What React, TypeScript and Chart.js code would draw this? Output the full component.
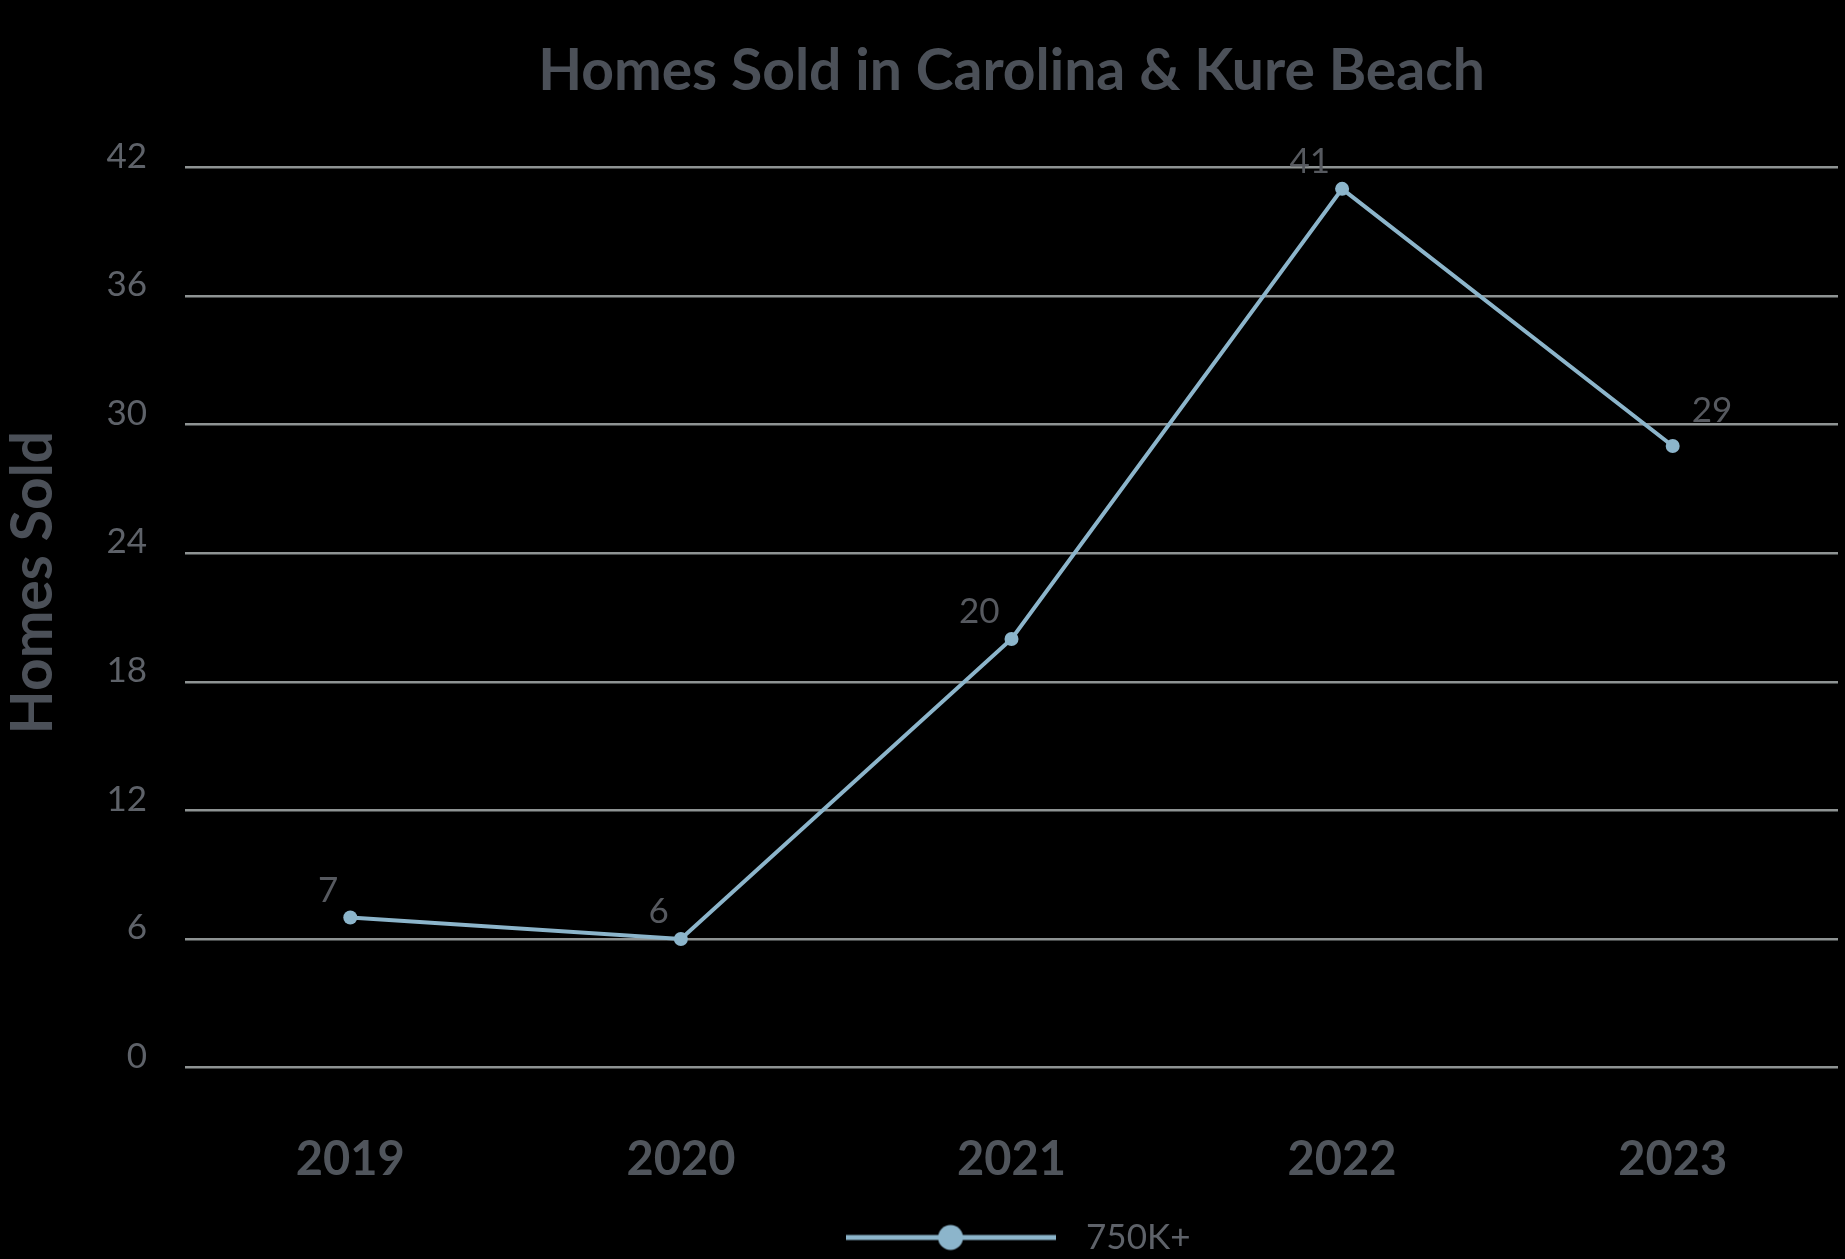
import React, { useEffect, useRef } from "react";
import { Chart, registerables } from "chart.js";

Chart.register(...registerables);

// ---- data ----
const years = ["2019", "2020", "2021", "2022", "2023"];
const homesSold = [7, 6, 20, 41, 29];
const seriesName = "750K+";
const yTickValues = [0, 6, 12, 18, 24, 30, 36, 42];
const chartTitle = "Homes Sold in Carolina & Kure Beach";
const yAxisTitle = "Homes Sold";

// ---- styles ----
const FONT = 'Lato, "Open Sans", sans-serif';
const LINE_COLOR = "#8cb5cb";
const GRID_COLOR = "#8e9393";
const TITLE_COLOR = "#4b5058";
const TICK_COLOR = "#5e6269";
const XTICK_COLOR = "#50555c";
const LABEL_COLOR = "#56595f";
const LABEL_SIDES = ["left", "left", "left", "left", "right"];

function makeLegendSwatch(): HTMLCanvasElement {
  const c = document.createElement("canvas");
  c.width = 210;
  c.height = 28;
  const ctx = c.getContext("2d")!;
  ctx.strokeStyle = LINE_COLOR;
  ctx.lineWidth = 5;
  ctx.beginPath();
  ctx.moveTo(0, 14);
  ctx.lineTo(210, 14);
  ctx.stroke();
  ctx.fillStyle = LINE_COLOR;
  ctx.beginPath();
  ctx.arc(105, 14, 12.5, 0, Math.PI * 2);
  ctx.fill();
  return c;
}

const valueLabelPlugin = {
  id: "valueLabels",
  afterDatasetsDraw(chart: any) {
    const ctx = chart.ctx;
    const meta = chart.getDatasetMeta(0);
    const data = chart.data.datasets[0].data;
    ctx.save();
    ctx.font = `35px ${FONT}`;
    ctx.fillStyle = LABEL_COLOR;
    ctx.textBaseline = "middle";
    meta.data.forEach((pt: any, i: number) => {
      if (LABEL_SIDES[i] === "right") {
        ctx.textAlign = "left";
        ctx.fillText(String(data[i]), pt.x + 19, pt.y - 35);
      } else {
        ctx.textAlign = "right";
        ctx.fillText(String(data[i]), pt.x - 12, pt.y - 27);
      }
    });
    ctx.restore();
  },
};

const yTitlePlugin = {
  id: "yTitle",
  afterDraw(chart: any) {
    const { ctx, chartArea } = chart;
    const cy = (chartArea.top + chartArea.bottom) / 2 - 35;
    ctx.save();
    ctx.translate(34, cy);
    ctx.rotate(-Math.PI / 2);
    ctx.font = `bold 57px ${FONT}`;
    ctx.fillStyle = TITLE_COLOR;
    ctx.textAlign = "center";
    ctx.textBaseline = "middle";
    ctx.fillText(yAxisTitle, 0, 0);
    ctx.restore();
  },
};

export default function App() {
  const canvasRef = useRef<HTMLCanvasElement | null>(null);

  useEffect(() => {
    if (!canvasRef.current) return;
    const swatch = makeLegendSwatch();
    const chart = new Chart(canvasRef.current, {
      type: "line",
      data: {
        labels: years,
        datasets: [
          {
            label: seriesName,
            data: homesSold,
            borderColor: LINE_COLOR,
            backgroundColor: LINE_COLOR,
            borderWidth: 4,
            pointRadius: 7,
            pointBorderWidth: 0,
            pointBackgroundColor: LINE_COLOR,
            tension: 0,
            fill: false,
          },
        ],
      },
      options: {
        animation: false,
        responsive: false,
        maintainAspectRatio: false,
        layout: { padding: { left: 0, right: 0, top: 0, bottom: -6 } },
        plugins: {
          title: {
            display: true,
            text: chartTitle,
            fullSize: false,
            color: TITLE_COLOR,
            font: { family: FONT, size: 57, weight: "bold" },
            padding: { top: 37, bottom: 62 },
          },
          legend: {
            display: true,
            position: "bottom",
            fullSize: false,
            labels: {
              usePointStyle: true,
              pointStyle: swatch as any,
              pointStyleWidth: 236,
              color: TICK_COLOR,
              font: { family: FONT, size: 35 },
              padding: 32,
            },
          },
          tooltip: { enabled: false },
        },
        scales: {
          x: {
            offset: true,
            grid: { display: false, drawTicks: false },
            border: { display: false },
            ticks: {
              color: XTICK_COLOR,
              font: { family: FONT, size: 47, weight: "bold" },
              padding: 64,
            },
            afterFit: (scale: any) => {
              scale.height = 64 + 47 * 1.2;
            },
          },
          y: {
            min: 0,
            max: 42,
            afterBuildTicks: (scale: any) => {
              scale.ticks = yTickValues.map((v) => ({ value: v }));
            },
            grid: { color: GRID_COLOR, lineWidth: 2.5, drawTicks: false },
            border: { display: false },
            ticks: {
              color: TICK_COLOR,
              font: { family: FONT, size: 35 },
              padding: 38,
              labelOffset: -11,
            },
            title: { display: false },
            afterFit: (scale: any) => {
              scale.width = 185;
            },
          },
        },
      },
      plugins: [valueLabelPlugin, yTitlePlugin],
    });
    return () => chart.destroy();
  }, []);

  return (
    <div
      style={{
        position: "fixed",
        left: 0,
        top: 0,
        width: 1845,
        height: 1259,
        background: "#000",
      }}
    >
      <canvas ref={canvasRef} width={1845} height={1259} style={{ display: "block" }} />
    </div>
  );
}
